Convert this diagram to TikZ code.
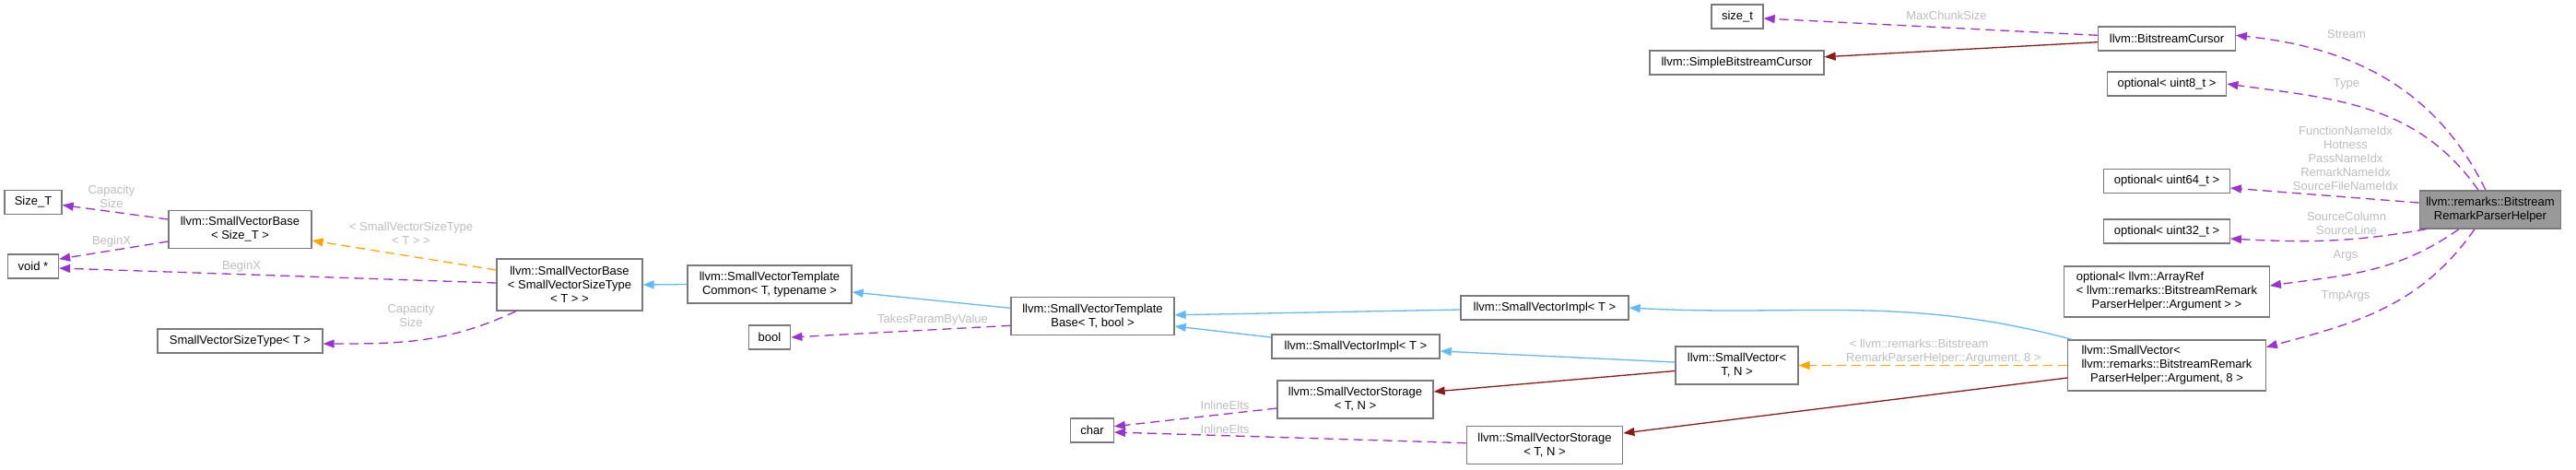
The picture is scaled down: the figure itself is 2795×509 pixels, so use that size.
\documentclass[tikz,border=0pt]{standalone}
\usepackage{fontspec}
\setmainfont{Liberation Sans}
\usetikzlibrary{arrows.meta}
\definecolor{usecol}{HTML}{9A32CD}
\definecolor{pubcol}{HTML}{63B8FF}
\definecolor{protcol}{HTML}{8B1A1A}
\definecolor{tplcol}{HTML}{FFA500}
\definecolor{bordercol}{HTML}{7A7A7A}
\definecolor{lblcol}{HTML}{BEBEBE}
\definecolor{mainfill}{HTML}{999999}
\tikzset{
  box/.style={draw=bordercol, line width=1.3pt, fill=white, inner sep=0pt, align=center, rectangle},
  hone/.style={minimum height=26pt},
  htwo/.style={minimum height=41pt},
  hthree/.style={minimum height=55pt},
  lbl/.style={text=lblcol, inner sep=0pt, align=center},
  tip/.style={-{Triangle[length=12pt,width=9pt]}},
  usage/.style={draw=usecol, line width=1.3pt, dash pattern=on 10pt off 6pt, tip},
  pub/.style={draw=pubcol, line width=1.3pt, tip},
  prot/.style={draw=protcol, line width=1.3pt, tip},
  tpl/.style={draw=tplcol, line width=1.3pt, dash pattern=on 10pt off 6pt, tip},
}
\begin{document}
\begin{tikzpicture}[x=1pt,y=1pt,font=\fontsize{13}{15}\selectfont]
\useasboundingbox[fill=white] (0,0) rectangle (2795,-509);

% nodes
\node[box, hone, minimum width=62pt] (sizeT) at (36,-219.5) {Size\_T};
\node[box, hone, minimum width=55pt] (voidp) at (36,-289) {void *};
\node[box, htwo, minimum width=155pt] (svbsize) at (260.5,-249) {llvm::SmallVectorBase\\< Size\_T >};
\node[box, hone, minimum width=179pt] (svsizetype) at (260.5,-370) {SmallVectorSizeType< T >};
\node[box, minimum height=56pt, minimum width=158pt] (svbase) at (618,-309) {llvm::SmallVectorBase\\< SmallVectorSizeType\\< T > >};
\node[box, htwo, minimum width=178pt] (svtc) at (835,-308.5) {llvm::SmallVectorTemplate\\Common< T, typename >};
\node[box, hone, minimum width=45.5pt] (bool) at (835,-366) {bool};
\node[box, htwo, minimum width=177pt] (svtb) at (1185.5,-343.3) {llvm::SmallVectorTemplate\\Base< T, bool >};
\node[box, hone, minimum width=182pt] (svimpl1) at (1676,-334) {llvm::SmallVectorImpl< T >};
\node[box, hone, minimum width=182pt] (svimpl2) at (1471,-376) {llvm::SmallVectorImpl< T >};
\node[box, htwo, minimum width=169pt] (svstor1) at (1470.5,-433.5) {llvm::SmallVectorStorage\\< T, N >};
\node[box, htwo, minimum width=169.5pt] (svstor2) at (1676,-483) {llvm::SmallVectorStorage\\< T, N >};
\node[box, hone, minimum width=46.5pt] (char) at (1185,-467) {char};
\node[box, htwo, minimum width=133pt] (svTN) at (1884.5,-396.5) {llvm::SmallVector<\\T, N >};
\node[box, hone, minimum width=56pt] (sizet) at (1885,-18) {size\_t};
\node[box, hone, minimum width=189pt] (sbc) at (1884.5,-68) {llvm::SimpleBitstreamCursor};
\node[box, hone, minimum width=148.5pt] (bc) at (2351,-42) {llvm::BitstreamCursor};
\node[box, hone, minimum width=129.5pt] (opt8) at (2351,-91) {optional< uint8\_t >};
\node[box, hone, minimum width=136.5pt] (opt64) at (2351,-196.5) {optional< uint64\_t >};
\node[box, hone, minimum width=136.5pt] (opt32) at (2351,-251) {optional< uint32\_t >};
\node[box, hthree, minimum width=222.5pt] (optarr) at (2351,-316.5) {\begin{tabular}{@{}l@{}}optional< llvm::ArrayRef\\< llvm::remarks::BitstreamRemark\\\multicolumn{1}{@{}c@{}}{ParserHelper::Argument > >}\end{tabular}};
\node[box, hthree, minimum width=214.5pt] (svarg) at (2351,-396.5) {\begin{tabular}{@{}l@{}}llvm::SmallVector<\\llvm::remarks::BitstreamRemark\\\multicolumn{1}{@{}c@{}}{ParserHelper::Argument, 8 >}\end{tabular}};
\node[box, htwo, minimum width=153.5pt, fill=mainfill] (helper) at (2702,-227.5) {llvm::remarks::Bitstream\\RemarkParserHelper};

% edges
\draw[usage] ([yshift=11pt]svbsize.west) -- ([yshift=-3pt]sizeT.east);
\draw[usage] ([yshift=-13pt]svbsize.west) -- ([yshift=8pt]voidp.east);
\draw[usage] ([yshift=2pt]svbase.west) -- ([yshift=-2pt]voidp.east);
\draw[tpl] ([yshift=16pt]svbase.west) -- ([yshift=-12pt]svbsize.east);
\draw[usage] ([xshift=-58pt]svbase.south) to[out=205,in=0] ([yshift=-3pt]svsizetype.east);
\draw[pub] (svtc.west) -- (svbase.east);
\draw[pub] ([yshift=9pt]svtb.west) -- ([yshift=-8.5pt]svtc.east);
\draw[usage] ([yshift=-10pt]svtb.west) -- (bool.east);
\draw[pub] ([yshift=-2pt]svimpl1.west) -- ([yshift=1.5pt]svtb.east);
\draw[pub] ([yshift=10pt]svimpl2.west) -- ([yshift=-10.7pt]svtb.east);
\draw[pub] ([yshift=3.5pt]svTN.west) -- ([yshift=-5pt]svimpl2.east);
\draw[prot] ([yshift=-6pt]svTN.west) -- ([yshift=8.5pt]svstor1.east);
\draw[tpl] (svarg.west) -- (svTN.east);
\draw[pub] ([xshift=5pt]svarg.north west) to[out=165,in=-3] (svimpl1.east);
\draw[prot] ([yshift=-13.5pt]svarg.west) -- ([yshift=13pt]svstor2.east);
\draw[usage] ([yshift=-9.5pt]svstor1.west) -- ([yshift=4.3pt]char.east);
\draw[usage] ([yshift=2.3pt]svstor2.west) -- ([yshift=-2pt]char.east);
\draw[usage] ([yshift=3.7pt]bc.west) -- ([yshift=-2pt]sizet.east);
\draw[prot] ([yshift=-3.7pt]bc.west) -- ([yshift=6.3pt]sbc.east);
\draw[usage] ([xshift=-5pt]helper.north) to[out=116,in=-6] ([yshift=3.7pt]bc.east);
\draw[usage] ([xshift=-13pt]helper.north) to[out=125,in=-8] (opt8.east);
\draw[usage] ([yshift=7.5pt]helper.west) -- ([yshift=-7.5pt]opt64.east);
\draw[usage] ([xshift=8pt]helper.south west) to[out=190,in=-3] ([yshift=-8pt]opt32.east);
\draw[usage] ([xshift=-34pt]helper.south) to[out=215,in=8] ([yshift=6.5pt]optarr.east);
\draw[usage] ([xshift=-17pt]helper.south) to[out=235,in=15] ([yshift=19.8pt]svarg.east);

% labels
\node[lbl] (l1) at (121,-213) {Capacity\\Size};
\node[lbl] (l2) at (121,-262) {BeginX};
\node[lbl] (l3) at (262,-289) {BeginX};
\node[lbl] (l4) at (446,-253.5) {< SmallVectorSizeType\\< T > >};
\node[lbl] (l5) at (446,-342) {Capacity\\Size};
\node[lbl] (l6) at (1012,-347) {TakesParamByValue};
\node[lbl] (l7) at (1329,-440) {InlineElts};
\node[lbl] (l8) at (1329,-466) {InlineElts};
\node[lbl, anchor=west, align=left] (l9) at (2003,-382) {\ < llvm::remarks::Bitstream\\RemarkParserHelper::Argument, 8 >};
\node[lbl] (l10) at (2112,-17) {MaxChunkSize};
\node[lbl] (l11) at (2546,-37) {Stream};
\node[lbl] (l12) at (2546,-91) {Type};
\node[lbl] (l13) at (2545,-171.7) {FunctionNameIdx\\Hotness\\PassNameIdx\\RemarkNameIdx\\SourceFileNameIdx};
\node[lbl] (l14) at (2546,-242) {SourceColumn\\SourceLine};
\node[lbl] (l15) at (2545,-277) {Args};
\node[lbl] (l16) at (2545,-321) {TmpArgs};
\end{tikzpicture}
\end{document}
